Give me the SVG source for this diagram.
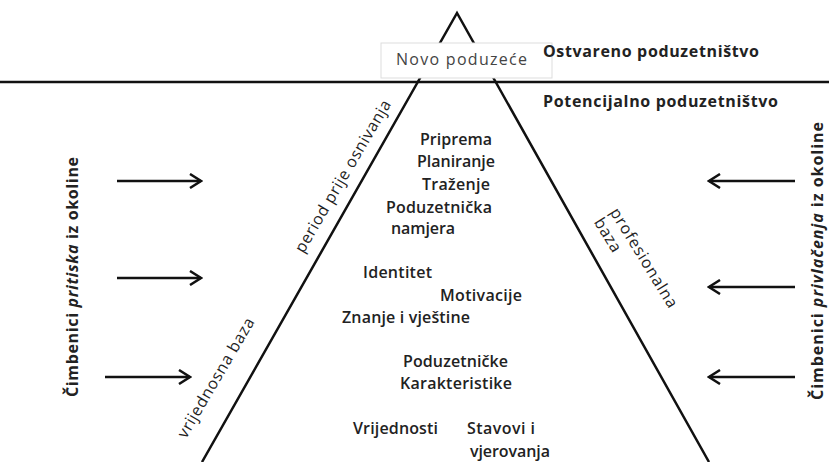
<svg xmlns="http://www.w3.org/2000/svg" width="829" height="462" viewBox="0 0 829 462">
<defs>
<style>
text{font-family:"Open Sans","Liberation Sans",sans-serif;fill:#222}
.in{font-size:16px;font-weight:600}
.hd{font-size:16px;font-weight:700}
.lb{font-size:16px;font-weight:400}
.ln{stroke:#111;stroke-width:2.5;fill:none}
.ar{stroke:#111;stroke-width:2.5;fill:none}
</style>
<marker id="ah" viewBox="0 0 16 16" refX="14" refY="8" markerWidth="16" markerHeight="16" markerUnits="userSpaceOnUse" orient="auto">
<path d="M3,1 L14,8 L3,15" fill="none" stroke="#111" stroke-width="2.5"/>
</marker>
</defs>
<rect width="829" height="462" fill="#fff"/>
<g id="connectors">
<line class="ln" x1="0" y1="82" x2="829" y2="82"/>
<polyline class="ln" points="202,462 457,13 709,462"/>
<line class="ar" x1="117" y1="181" x2="201" y2="181" marker-end="url(#ah)"/>
<line class="ar" x1="117" y1="278" x2="201" y2="278" marker-end="url(#ah)"/>
<line class="ar" x1="105" y1="377" x2="190" y2="377" marker-end="url(#ah)"/>
<line class="ar" x1="795" y1="181" x2="709" y2="181" marker-end="url(#ah)"/>
<line class="ar" x1="795" y1="287" x2="709" y2="287" marker-end="url(#ah)"/>
<line class="ar" x1="795" y1="377" x2="709" y2="377" marker-end="url(#ah)"/>
</g>
<g id="novo-poduzece">
<rect x="381" y="43" width="171" height="35" fill="#fff" stroke="#ddd" stroke-width="1"/>
<text x="396" y="65" style="font-size:16px;fill:#444" textLength="131">Novo poduzeće</text>
</g>
<g id="ostvareno">
<text class="hd" x="543" y="57" textLength="216">Ostvareno poduzetništvo</text>
</g>
<g id="potencijalno">
<text class="hd" x="543" y="107" textLength="235">Potencijalno poduzetništvo</text>
</g>
<g id="labels-lines">
<text class="lb" text-anchor="middle" transform="translate(347.5,179) rotate(-59.6)" textLength="174">period prije osnivanja</text>
<text class="lb" text-anchor="middle" transform="translate(220.5,380.5) rotate(-59.6)" textLength="136">vrijednosna baza</text>
<text class="lb" transform="translate(609.5,212) rotate(58.5)" textLength="114">profesionalna</text>
<text class="lb" transform="translate(593.5,222) rotate(58.5)" textLength="37">baza</text>
</g>
<g id="left-factors">
<text class="hd" text-anchor="middle" transform="translate(78,277) rotate(-90)" textLength="240">Čimbenici <tspan font-style="italic">pritiska</tspan> iz okoline</text>
</g>
<g id="right-factors">
<text class="hd" text-anchor="middle" transform="translate(823,261) rotate(-90)" textLength="278">Čimbenici <tspan font-style="italic">privlačenja</tspan> iz okoline</text>
</g>
<g id="inner">
<text class="in" x="420" y="145" textLength="72">Priprema</text>
<text class="in" x="417" y="167" textLength="78">Planiranje</text>
<text class="in" x="422" y="190" textLength="68">Traženje</text>
<text class="in" x="386" y="213" textLength="106">Poduzetnička</text>
<text class="in" x="391" y="234" textLength="64">namjera</text>
<text class="in" x="363" y="278" textLength="69">Identitet</text>
<text class="in" x="440" y="301" textLength="82">Motivacije</text>
<text class="in" x="342" y="323" textLength="128">Znanje i vještine</text>
<text class="in" x="403" y="367" textLength="105">Poduzetničke</text>
<text class="in" x="400" y="389" textLength="112">Karakteristike</text>
<text class="in" x="353" y="434" textLength="85">Vrijednosti</text>
<text class="in" x="467" y="434" textLength="68">Stavovi i</text>
<text class="in" x="470" y="457" textLength="80">vjerovanja</text>
</g>
</svg>
